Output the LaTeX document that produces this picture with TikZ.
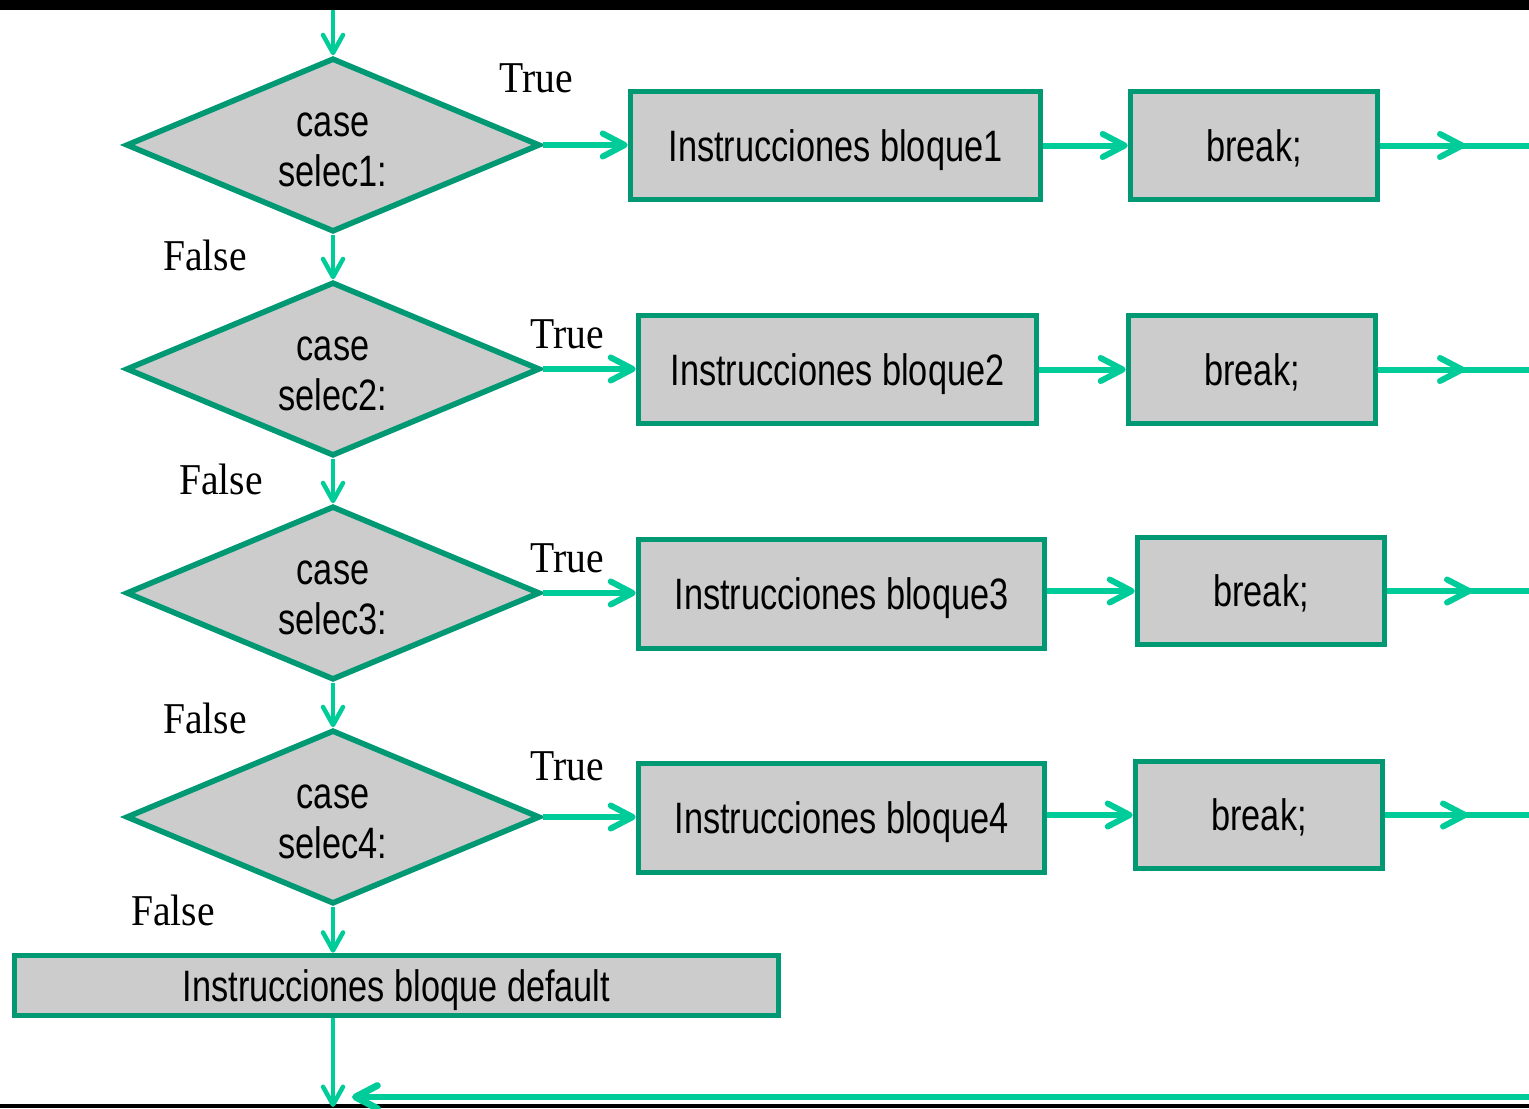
\documentclass[tikz,border=0pt]{standalone}
\usepackage{fontspec}
\usetikzlibrary{shapes.geometric,arrows.meta}
\newfontfamily\boxfont[FakeStretch=0.78]{Liberation Sans}
\newfontfamily\labfont[FakeStretch=0.9]{Liberation Serif}
\definecolor{edge}{HTML}{009973}
\definecolor{flowc}{HTML}{00CC99}
\definecolor{fillg}{HTML}{CCCCCC}

\begin{document}
\begin{tikzpicture}[x=0.5pt,y=-0.5pt,
  blockbox/.style={draw=edge, fill=fillg, line width=2.8pt, rectangle, inner sep=0pt,
    text depth=0pt, font=\boxfont\fontsize{22}{25}\selectfont},
  decision/.style={draw=edge, fill=fillg, line width=2.8pt, diamond, inner sep=0pt,
    minimum width=207pt, minimum height=87pt},
  dtext/.style={align=center, inner sep=0pt, font=\boxfont\fontsize{22}{25}\selectfont},
  lab/.style={inner sep=0pt, font=\labfont\fontsize{22}{26}\selectfont},
  hflow/.style={draw=flowc, line width=3pt,
    -{Straight Barb[length=11pt,width=11.5pt,line cap=round,line join=round]}},
  vflow/.style={draw=flowc, line width=2.25pt,
    -{Straight Barb[length=9pt,width=10pt,line cap=round,line join=round]}},
  hline/.style={draw=flowc, line width=3pt},
]
\useasboundingbox (0,0) rectangle (1529,1108);

% frame bands
\fill[black] (0,0) rectangle (1529,9.5);
\fill[black] (0,1104) rectangle (1529,1108);

% decisions
\node[decision] (d1) at (333,145) {};
\node[decision] (d2) at (333,369) {};
\node[decision] (d3) at (333,593) {};
\node[decision] (d4) at (333,817) {};
\node[dtext] (t1) at (333,150) {case\\selec1:};
\node[dtext] (t2) at (333,374) {case\\selec2:};
\node[dtext] (t3) at (333,598) {case\\selec3:};
\node[dtext] (t4) at (333,822) {case\\selec4:};

% instruction blocks
\node[blockbox, minimum width=205pt, minimum height=54pt] (b1) at (835.5,145.5) {Instrucciones bloque1};
\node[blockbox, minimum width=199pt, minimum height=54pt] (b2) at (837.5,369.5) {Instrucciones bloque2};
\node[blockbox, minimum width=203pt, minimum height=54.5pt] (b3) at (841.5,594) {Instrucciones bloque3};
\node[blockbox, minimum width=203pt, minimum height=54.5pt] (b4) at (841.5,818) {Instrucciones bloque4};

\node[blockbox, minimum width=123.5pt, minimum height=54pt] (k1) at (1254,145.5) {break;};
\node[blockbox, minimum width=123.5pt, minimum height=54pt] (k2) at (1252,369.5) {break;};
\node[blockbox, minimum width=123.5pt, minimum height=53.5pt] (k3) at (1261,591) {break;};
\node[blockbox, minimum width=123.5pt, minimum height=53.5pt] (k4) at (1259,815) {break;};

\node[blockbox, minimum width=382pt, minimum height=30pt] (def) at (396.5,985.5) {Instrucciones bloque default};

% labels
\node[lab] (lt1) at (536,78) {True};
\node[lab] (lt2) at (567,334) {True};
\node[lab] (lt3) at (567,558) {True};
\node[lab] (lt4) at (567,766) {True};
\node[lab] (lf1) at (205,255) {False};
\node[lab] (lf2) at (221,479) {False};
\node[lab] (lf3) at (205,718) {False};
\node[lab] (lf4) at (173,910) {False};

% free ends
\coordinate (top) at (333,9.5);
\coordinate (bot) at (333,1107);
\coordinate (m1) at (1465,145.5);
\coordinate (m2) at (1465,369.5);
\coordinate (m3) at (1472,591);
\coordinate (m4) at (1468,815);
\coordinate (edgeR) at (1529,0);
\coordinate (retR) at (1529,1097);
\coordinate (retL) at (352,1097);

% vertical flow
\draw[vflow] (top) -- (d1.north);
\draw[vflow] (d1.south) -- (d2.north);
\draw[vflow] (d2.south) -- (d3.north);
\draw[vflow] (d3.south) -- (d4.north);
\draw[vflow] (d4.south) -- (d4.south |- def.north);
\draw[vflow] (def.south -| d4.south) -- (bot);

% true branches
\draw[hflow] (d1.east) -- (d1.east -| b1.west);
\draw[hflow] (d2.east) -- (d2.east -| b2.west);
\draw[hflow] (d3.east) -- (d3.east -| b3.west);
\draw[hflow] (d4.east) -- (d4.east -| b4.west);

% block to break
\draw[hflow] (k1.west -| b1.east) -- (k1.west);
\draw[hflow] (k2.west -| b2.east) -- (k2.west);
\draw[hflow] (k3.west -| b3.east) -- (k3.west);
\draw[hflow] (k4.west -| b4.east) -- (k4.west);

% exits from break
\draw[hline] (k1.east) -- (k1.east -| edgeR);
\draw[hline] (k2.east) -- (k2.east -| edgeR);
\draw[hline] (k3.east) -- (k3.east -| edgeR);
\draw[hline] (k4.east) -- (k4.east -| edgeR);
\draw[hflow] (k1.east) -- (m1);
\draw[hflow] (k2.east) -- (m2);
\draw[hflow] (k3.east) -- (m3);
\draw[hflow] (k4.east) -- (m4);

% return line
\draw[hflow, line width=3.4pt] (retR) -- (retL);
\end{tikzpicture}
\end{document}
